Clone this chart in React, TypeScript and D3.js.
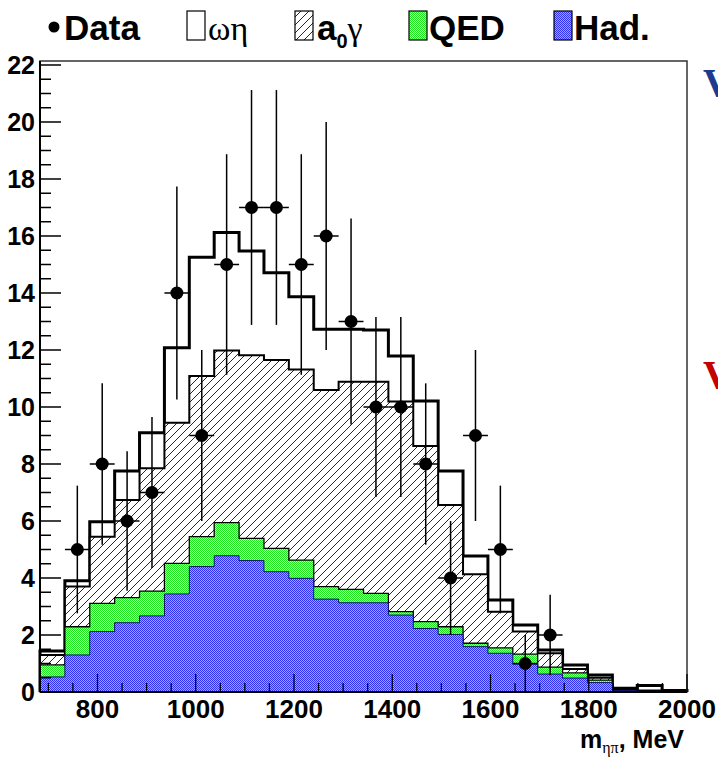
import React from "react";
import * as d3 from "d3";

// Histogram binning (m_eta_pi, MeV)
const xMin = 683;
const xMax = 2000;
const nBins = 26;

// Data points (events per bin) and their errors
const dataCounts = [0, 5, 8, 6, 7, 14, 9, 15, 17, 17, 15, 16, 13, 10, 10, 8, 4, 9, 5, 1, 2, 0, 0, 0, 0, 0];
const dataErrors = [0, 2.24, 2.83, 2.45, 2.65, 3.74, 3, 3.87, 4.12, 4.12, 3.87, 4, 3.61, 3.16, 3.16, 2.83, 2, 3, 2.24, 1, 1.41, 0, 0, 0, 0, 0];

// Stacked simulation components, bottom to top
const hadValues = [0.53, 1.3, 2.12, 2.43, 2.67, 3.44, 4.4, 4.78, 4.61, 4.22, 3.99, 3.26, 3.13, 3.13, 2.7, 2.23, 2.02, 1.59, 1.36, 0.98, 0.63, 0.49, 0.33, 0.05, 0.02, 0];
const qedValues = [0.42, 0.99, 0.99, 0.88, 0.87, 1.07, 1.05, 1.16, 0.78, 0.82, 0.64, 0.44, 0.47, 0.33, 0.12, 0.24, 0.27, 0.12, 0.19, 0.35, 0.24, 0.18, 0.09, 0.02, 0.01, 0];
const a0gValues = [0.35, 1.41, 2.34, 3.43, 4.31, 4.94, 5.64, 6.04, 6.43, 6.61, 6.69, 6.9, 7.29, 7.43, 7.37, 6.16, 4.27, 2.42, 1.27, 0.79, 0.49, 0.14, 0.08, 0.03, 0.02, 0];
const omegaEtaValues = [0.14, 0.2, 0.52, 1.01, 1.25, 2.63, 4.16, 4.14, 3.65, 3.06, 2.55, 2.13, 1.84, 1.81, 1.6, 1.58, 1.19, 0.64, 0.41, 0.23, 0.11, 0.14, 0.1, 0.03, 0.18, 0.05];

// Axis tick labels
const xTickLabels = [800, 1000, 1200, 1400, 1600, 1800, 2000];
const yTickLabels = [0, 2, 4, 6, 8, 10, 12, 14, 16, 18, 20, 22];

const W = 718;
const H = 760;
const left = 40, right = 687, top = 61, bottom = 692;

const SANS = "'Liberation Sans', Arial, Helvetica, sans-serif";
const SERIF = "'Liberation Serif', 'DejaVu Serif', serif";

export default function App() {
  const x = d3.scaleLinear().domain([xMin, xMax]).range([left, right]);
  const y = d3.scaleLinear().domain([0, 22.14]).range([bottom, top]);
  const binW = (xMax - xMin) / nBins;
  const edges = d3.range(nBins + 1).map((i) => xMin + i * binW);

  // build stack rows from the component arrays
  const keys = ["had", "qed", "a0g", "oe"];
  const rows = d3.range(nBins).map((i) => ({
    had: hadValues[i],
    qed: qedValues[i],
    a0g: a0gValues[i],
    oe: omegaEtaValues[i],
  }));
  const series = d3.stack<any>().keys(keys)(rows);

  // step points for a cumulative level
  const stepPts = (s: any) => {
    const pts: [number, number][] = [];
    s.forEach((d: any, i: number) => {
      pts.push([edges[i], d[1]]);
      pts.push([edges[i + 1], d[1]]);
    });
    return pts;
  };
  const area = d3
    .area<[number, number]>()
    .x((d) => x(d[0]))
    .y0(y(0))
    .y1((d) => y(d[1]));
  const line = d3
    .line<[number, number]>()
    .x((d) => x(d[0]))
    .y((d) => y(d[1]));
  const outline = (s: any) => {
    const p = stepPts(s);
    return line([[xMin, 0], ...p, [xMax, 0]]);
  };

  const styles: Record<string, { fill: string; sw: number; stroke: string }> = {
    oe: { fill: "#ffffff", sw: 3, stroke: "#000" },
    a0g: { fill: "url(#hatch)", sw: 2, stroke: "#000" },
    qed: { fill: "url(#dotG)", sw: 1.3, stroke: "#000" },
    had: { fill: "url(#dotB)", sw: 1, stroke: "#101060" },
  };
  const drawOrder = ["oe", "a0g", "qed", "had"];

  const xMinor = d3.range(700, 2000, 50);
  const yMinor = d3.range(0, 22.01, 0.5);

  const legendY = 40;

  return (
    <svg width={W} height={H} style={{ position: "absolute", left: 0, top: 0, background: "#fff" }}>
      <defs>
        <pattern id="hatch" patternUnits="userSpaceOnUse" width="8" height="8">
          <path d="M-1,1 L1,-1 M0,8 L8,0 M7,9 L9,7" stroke="#111" strokeWidth="0.9" />
        </pattern>
        <pattern id="dotG" patternUnits="userSpaceOnUse" width="2" height="2">
          <rect width="2" height="2" fill="#b4ffb4" />
          <rect width="1" height="1" fill="#1ee81e" />
          <rect x="1" y="1" width="1" height="1" fill="#1ee81e" />
        </pattern>
        <pattern id="dotB" patternUnits="userSpaceOnUse" width="2" height="2">
          <rect width="2" height="2" fill="#a4a4ff" />
          <rect width="1" height="1" fill="#3030f4" />
          <rect x="1" y="1" width="1" height="1" fill="#3030f4" />
        </pattern>
      </defs>

      {/* Legend */}
      <g fontFamily={SANS} fontWeight="bold" fontSize={35}>
        <circle cx={54} cy={27} r={5.5} fill="#000" />
        <text x={64} y={legendY}>Data</text>

        <rect x={187} y={11} width={18} height={29} fill="#fff" stroke="#000" strokeWidth={1.2} />
        <text x={208} y={legendY} fontFamily={SERIF} fontWeight="normal" fontSize={34}>ωη</text>

        <rect x={295} y={11} width={18} height={29} fill="url(#hatch)" stroke="#000" strokeWidth={1.2} />
        <text x={317} y={legendY}>
          a<tspan fontSize={20} dy={8}>0</tspan>
          <tspan fontFamily={SERIF} fontWeight="normal" fontSize={34} dy={-8}>γ</tspan>
        </text>

        <rect x={409} y={11} width={18} height={29} fill="url(#dotG)" stroke="#000" strokeWidth={1.2} />
        <text x={429} y={legendY}>QED</text>

        <rect x={554} y={11} width={18} height={29} fill="url(#dotB)" stroke="#000" strokeWidth={1.2} />
        <text x={574} y={legendY}>Had.</text>
      </g>

      {/* Stacked histograms, drawn top level first */}
      {drawOrder.map((k) => {
        const s = series[keys.indexOf(k)];
        const st = styles[k];
        return (
          <g key={k}>
            {k === "a0g" && <path d={area(stepPts(s)) || ""} fill="#fff" />}
            <path d={area(stepPts(s)) || ""} fill={st.fill} />
            <path d={outline(s) || ""} fill="none" stroke={st.stroke} strokeWidth={st.sw} strokeLinejoin="miter" />
          </g>
        );
      })}

      {/* Data points */}
      <g stroke="#000" strokeWidth={1.5}>
        {dataCounts.map((c, i) => {
          if (c <= 0) return null;
          const cx = x(xMin + (i + 0.5) * binW);
          return (
            <g key={i}>
              <line x1={cx} x2={cx} y1={y(c + dataErrors[i])} y2={y(Math.max(0, c - dataErrors[i]))} />
              <line x1={x(edges[i])} x2={x(edges[i + 1])} y1={y(c)} y2={y(c)} />
              <circle cx={cx} cy={y(c)} r={6.5} fill="#000" stroke="none" />
            </g>
          );
        })}
      </g>

      {/* Frame */}
      <rect x={left} y={top} width={right - left} height={bottom - top} fill="none" stroke="#333" strokeWidth={1.5} />
      <line x1={left} x2={left} y1={top} y2={bottom} stroke="#000" strokeWidth={2} />
      <line x1={left} x2={right} y1={bottom} y2={bottom} stroke="#000" strokeWidth={2} />

      {/* Y ticks */}
      <g stroke="#000" strokeWidth={1.5}>
        {yMinor.map((v) => (
          <line key={v} x1={left} x2={left + (v % 2 === 0 ? 21 : 11)} y1={y(v)} y2={y(v)} />
        ))}
      </g>
      <g fontFamily={SANS} fontWeight="bold" fontSize={25} textAnchor="end">
        {yTickLabels.map((v) => (
          <text key={v} x={35} y={y(v)} dy="0.36em">{v}</text>
        ))}
      </g>

      {/* X ticks */}
      <g stroke="#000" strokeWidth={1.3}>
        {xMinor.map((v) => (
          <line key={v} x1={x(v)} x2={x(v)} y1={bottom} y2={bottom - (xTickLabels.includes(v) ? 18 : 9)} />
        ))}
        <line x1={x(2000)} x2={x(2000)} y1={bottom} y2={bottom - 18} />
      </g>
      <g fontFamily={SANS} fontWeight="bold" fontSize={26} textAnchor="middle">
        {xTickLabels.map((v) => (
          <text key={v} x={x(v)} y={718}>{v}</text>
        ))}
      </g>

      {/* X axis title */}
      <text x={684} y={748} textAnchor="end" fontFamily={SANS} fontWeight="bold" fontSize={25}>
        m<tspan fontFamily={SERIF} fontWeight="normal" fontSize={16} dy={5}>ηπ</tspan>
        <tspan dy={-5}>, MeV</tspan>
      </text>

      {/* Clipped marks from neighbouring slide */}
      <text x={703} y={96} fontFamily={SERIF} fontWeight="bold" fontSize={40} fill="#1c3a8e">V</text>
      <text x={703} y={388} fontFamily={SERIF} fontWeight="bold" fontSize={40} fill="#c40000">V</text>
    </svg>
  );
}
